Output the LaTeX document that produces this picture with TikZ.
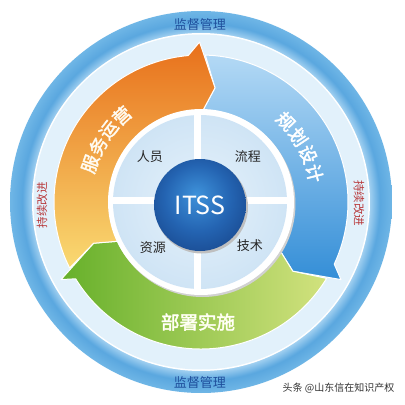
\documentclass[tikz,border=0pt]{standalone}
\usepackage{fontspec}
\setmainfont{Noto Sans CJK SC}
\definecolor{ringout}{HTML}{6FB6E6}
\definecolor{ringmid}{HTML}{5AA7DF}
\definecolor{ringin}{HTML}{A6D3F2}
\definecolor{band}{HTML}{E2F1FB}
\definecolor{orgtop}{HTML}{E8701B}
\definecolor{orgmid}{HTML}{F1A03A}
\definecolor{orgbot}{HTML}{F9DA72}
\definecolor{blutop}{HTML}{B3D9F5}
\definecolor{blumid}{HTML}{6AB1E8}
\definecolor{blubot}{HTML}{348ED7}
\definecolor{grnleft}{HTML}{66B02A}
\definecolor{grnmid}{HTML}{98CA48}
\definecolor{grnright}{HTML}{D2E27E}
\definecolor{quadin}{HTML}{E6F2FB}
\definecolor{quadout}{HTML}{CFE4F5}
\definecolor{itssin}{HTML}{3E92DA}
\definecolor{itssmid}{HTML}{2464B2}
\definecolor{itssout}{HTML}{1A4C93}
\definecolor{supblue}{HTML}{1F4F9C}
\definecolor{impred}{HTML}{B8383A}
\pgfdeclareradialshading{outerring}{\pgfpoint{0bp}{0bp}}{color(0bp)=(ringin); color(22bp)=(ringin); color(23.4bp)=(ringmid); color(25bp)=(ringout); color(50bp)=(ringout)}
\pgfdeclareradialshading{itssball}{\pgfpoint{-2bp}{6bp}}{color(0bp)=(itssin); color(18bp)=(itssmid); color(30bp)=(itssout); color(50bp)=(itssout)}
\newcommand\myoutl[2]{\special{pdf:literal 2 Tr 0.45 w #1 RG}#2\special{pdf:literal 0 Tr}}
\tikzset{
  arrowbox/.style={draw=white, line width=1pt, line join=round},
  arclbl/.style={font=\fontsize{18}{18}\selectfont, inner sep=0pt, text=white},
  quadlbl/.style={font=\fontsize{13}{13}\selectfont, text=black!85, inner sep=0pt},
  suplbl/.style={font=\fontsize{13}{13}\selectfont, text=supblue, inner sep=0pt},
  implbl/.style={font=\fontsize{11.5}{11.5}\selectfont, text=impred, inner sep=0pt},
}
\begin{document}
\begin{tikzpicture}[x=1pt,y=1pt]
\useasboundingbox (-201,-203) rectangle (204,202);
\fill[white] (-201,-203) rectangle (204,202);
% outer rings
\shade[shading=outerring] (0,0) circle (191pt);
\fill[white] (0,0) circle (169pt);
\fill[band] (0,0) circle (167.5pt);
% blue arrow
\path[arrowbox, top color=blutop, middle color=blumid, bottom color=blubot]
  (89:91pt) -- (83:115pt) -- (88.3:147pt) arc[start angle=88.3, end angle=-25, radius=147pt]
  -- (-29:160pt) -- (-37:115pt) -- (-31:91pt) arc[start angle=-31, end angle=89, radius=91pt] -- cycle;
% green arrow
\path[arrowbox, left color=grnleft, middle color=grnmid, right color=grnright]
  (-31:91pt) -- (-37:115pt) -- (-31.3:147pt) arc[start angle=-31.3, end angle=-148.5, radius=147pt]
  -- (-151:160pt) -- (-159:115pt) -- (-154.5:91pt) arc[start angle=-154.5, end angle=-31, radius=91pt] -- cycle;
% orange arrow
\path[arrowbox, top color=orgtop, middle color=orgmid, bottom color=orgbot]
  (205.5:91pt) -- (201:115pt) -- (206.7:147pt) arc[start angle=206.7, end angle=95, radius=147pt]
  -- (90.5:160pt) -- (83:115pt) -- (89:91pt) arc[start angle=89, end angle=205.5, radius=91pt] -- cycle;
% inner disk
\fill[black!18] (1.5,-2) circle (93pt);
\fill[white] (0,0) circle (93pt);
\shade[inner color=quadin, outer color=quadout] (-1,0) circle (87pt);
\draw[white, line width=7pt] (-3,-90) -- (-3,90);
\draw[white, line width=7pt] (-90,2) -- (90,2);
% ITSS centre
\fill[black!25] (0.5,-5) circle (46.5pt);
\shade[shading=itssball] (-1,-3) circle (46pt);
\node[text=white, font=\fontsize{25}{25}\selectfont, inner sep=0pt] (itss) at (-1,-3) {ITSS};
% quadrant labels
\node[quadlbl] (renyuan) at (-51,45) {人员};
\node[quadlbl] (liucheng) at (47,45) {流程};
\node[quadlbl] (ziyuan) at (-48,-46) {资源};
\node[quadlbl] (jishu) at (49,-44) {技术};
% arc labels
\foreach \ch [count=\i] in {服,务,运,营} {
  \pgfmathsetmacro\ang{161-(\i-1)*9.5}
  \node[arclbl, rotate=\ang-90] (fw\i) at (\ang:117pt) {\myoutl{1 0.97 0.9}{\ch}};
}
\foreach \ch [count=\i] in {规,划,设,计} {
  \pgfmathsetmacro\ang{43.6-(\i-1)*9.8}
  \node[arclbl, rotate=\ang-90] (gw\i) at (\ang:117pt) {\myoutl{1 1 1}{\ch}};
}
\node[arclbl, font=\fontsize{18.5}{18.5}\selectfont] (bushu) at (-3,-120) {\myoutl{1 1 0.92}{部署实施}};
% outer labels
\node[suplbl] (jiandutop) at (-1,177) {监督管理};
\node[suplbl] (jiandubot) at (-1,-181) {监督管理};
\node[implbl, rotate=90] (gaijinl) at (-159,-3) {持续改进};
\node[implbl, rotate=-90] (gaijinr) at (158,-1) {持续改进};
% watermark
\node[font=\fontsize{10}{10}\selectfont, text=black!80, inner sep=0pt] (wm) at (137.5,-186) {头条 @山东信在知识产权};
\end{tikzpicture}
\end{document}
